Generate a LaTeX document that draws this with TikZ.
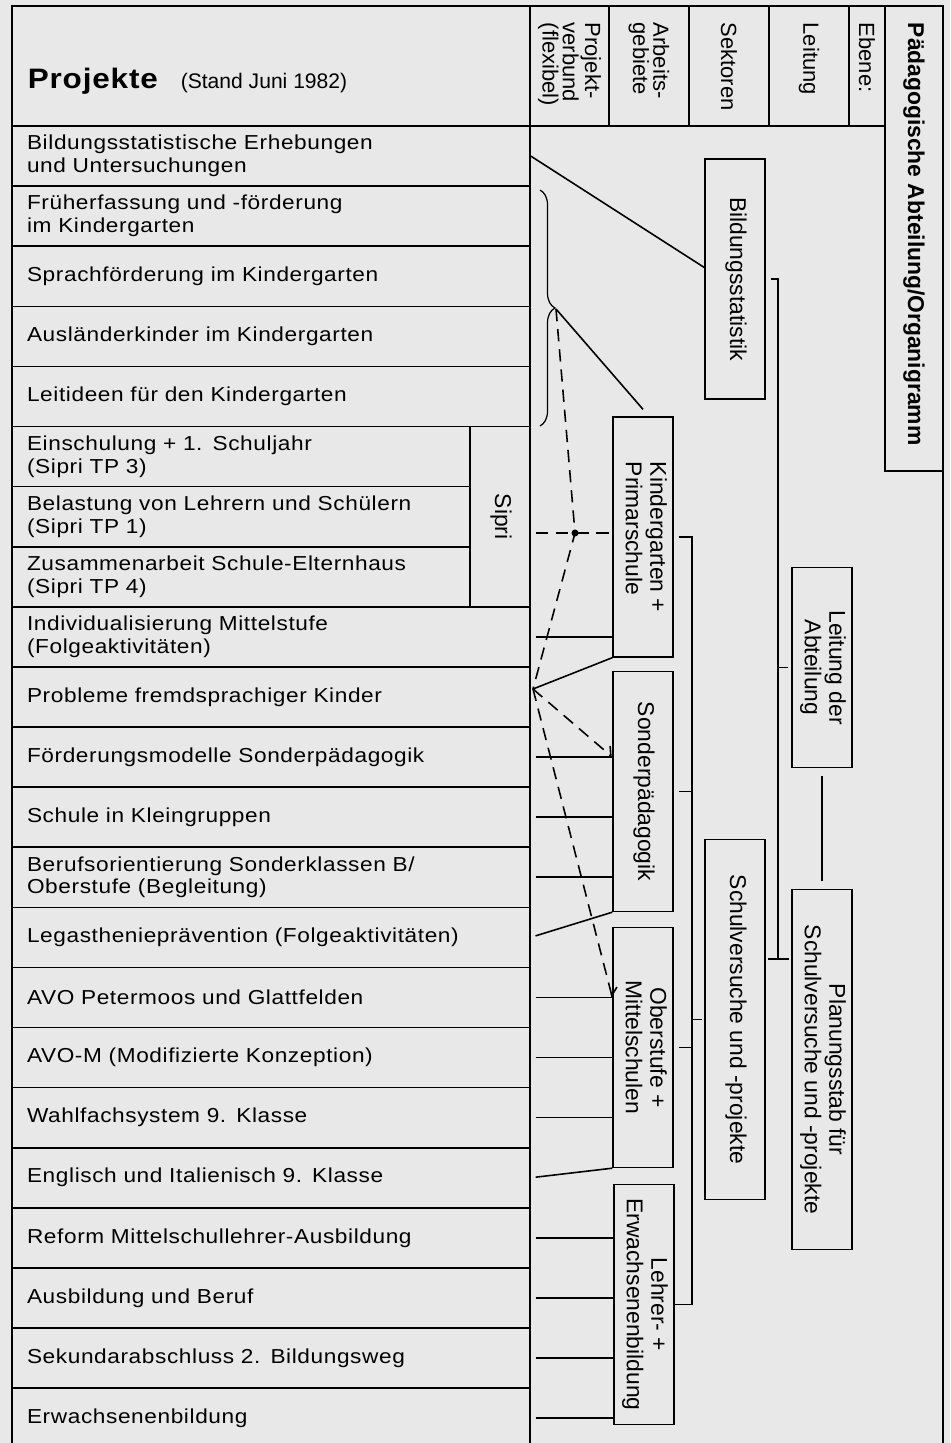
\documentclass[tikz,border=0pt]{standalone}
\usepackage{fontspec}
\usepackage{graphicx}
\setmainfont{Liberation Sans}
\newfontfamily\listfont[LetterSpace=3,FakeStretch=1.12]{Liberation Sans}
\usetikzlibrary{decorations.pathreplacing,arrows.meta}
\newcommand{\vlabel}[2][c]{\rotatebox{-90}{\begin{tabular}{@{}#1@{}}#2\end{tabular}}}

\begin{document}
\begin{tikzpicture}[x=0.02cm,y=-0.02cm,line width=0.9pt,
  cell/.style={draw, minimum width=10.36cm, minimum height=1.202cm, text width=9.76cm, align=left, inner xsep=0.3cm, inner ysep=0pt, font=\listfont\fontsize{11.5}{13}\selectfont},
  scell/.style={cell, minimum width=9.16cm, text width=8.56cm},
  colhead/.style={anchor=west, rotate=-90, align=left, inner sep=0pt, font=\fontsize{12.5}{11.5}\selectfont},
  unit/.style={draw, line width=0.8pt, minimum width=1.2cm, minimum height=4.8cm, inner sep=0pt, font=\fontsize{13}{14}\selectfont},
  dsh/.style={dash pattern=on 7pt off 4.5pt},
  gap/.style={shorten <=0.1cm}]
\path[use as bounding box, fill=black!9] (0,0) rectangle (950,1443);

\draw (12,6) rectangle (530,126);
\draw (530,6) rectangle (609,126);
\draw (609,6) rectangle (689,126);
\draw (689,6) rectangle (769,126);
\draw (769,6) rectangle (849,126);
\draw (849,6) rectangle (885,126);
\draw (885,6) rectangle (943,471);
\draw (943,471) -- (943,1460);
\draw (530,126) -- (530,1460);

\node[anchor=base west, inner sep=0pt, font=\listfont\bfseries\fontsize{16}{16}\selectfont] (ttl) at (27,89) {Projekte};
\node[anchor=base west, inner sep=0pt, font=\fontsize{12}{12}\selectfont] (stand) at (180,89) {(Stand Juni 1982)};
\node[colhead] (hverb) at (569.5,22) {Projekt-\\verbund\\(flexibel)};
\node[colhead] (harb) at (649,22) {Arbeits-\\gebiete};
\node[colhead] (hsek) at (729,22) {Sektoren};
\node[colhead] (hlei) at (809,22) {Leitung};
\node[colhead] (heb) at (867,22) {Ebene:};
\node[colhead, font=\bfseries\fontsize{13}{13}\selectfont] (hpa) at (914,22) {Pädagogische Abteilung/Organigramm};

\node[cell] (r1) at (271,156.05) {Bildungsstatistische Erhebungen\\und Untersuchungen};
\node[cell] (r2) at (271,216.15) {Früherfassung und -förderung\\im Kindergarten};
\node[cell] (r3) at (271,276.25) {Sprachförderung im Kindergarten};
\node[cell] (r4) at (271,336.35) {Ausländerkinder im Kindergarten};
\node[cell] (r5) at (271,396.45) {Leitideen für den Kindergarten};
\node[scell] (r6) at (241,456.55) {Einschulung + 1. Schuljahr\\(Sipri TP 3)};
\node[scell] (r7) at (241,516.65) {Belastung von Lehrern und Schülern\\(Sipri TP 1)};
\node[scell] (r8) at (241,576.75) {Zusammenarbeit Schule-Elternhaus\\(Sipri TP 4)};
\node[cell] (r9) at (271,636.85) {Individualisierung Mittelstufe\\(Folgeaktivitäten)};
\node[cell] (r10) at (271,696.95) {Probleme fremdsprachiger Kinder};
\node[cell] (r11) at (271,757.05) {Förderungsmodelle Sonderpädagogik};
\node[cell] (r12) at (271,817.15) {Schule in Kleingruppen};
\node[cell] (r13) at (271,877.25) {Berufsorientierung Sonderklassen B/\\Oberstufe (Begleitung)};
\node[cell] (r14) at (271,937.35) {Legasthenieprävention (Folgeaktivitäten)};
\node[cell] (r15) at (271,997.45) {AVO Petermoos und Glattfelden};
\node[cell] (r16) at (271,1057.55) {AVO-M (Modifizierte Konzeption)};
\node[cell] (r17) at (271,1117.65) {Wahlfachsystem 9. Klasse};
\node[cell] (r18) at (271,1177.75) {Englisch und Italienisch 9. Klasse};
\node[cell] (r19) at (271,1237.85) {Reform Mittelschullehrer-Ausbildung};
\node[cell] (r20) at (271,1297.95) {Ausbildung und Beruf};
\node[cell] (r21) at (271,1358.05) {Sekundarabschluss 2. Bildungsweg};
\node[cell] (r22) at (271,1418.15) {Erwachsenenbildung};
\node[draw, minimum width=1.2cm, minimum height=3.606cm, inner sep=0pt, font=\fontsize{13}{14}\selectfont] (sipri) at (500,516.65) {\vlabel{Sipri}};

\node[unit] (bild) at (735,279) {\vlabel{Bildungsstatistik}};
\node[unit] (kg) at (643,537) {\vlabel[l]{Kindergarten +\\Primarschule}};
\node[unit] (sonder) at (643,791.5) {\vlabel{Sonderpädagogik}};
\node[unit] (ober) at (643,1047.5) {\vlabel{Oberstufe +\\Mittelschulen}};
\node[unit] (lehrer) at (644,1304.5) {\vlabel{Lehrer- +\\Erwachsenenbildung}};
\node[unit, minimum height=7.2cm] (schul) at (735,1019.5) {\vlabel{Schulversuche und -projekte}};
\node[unit, minimum height=4cm] (leit) at (822,667.5) {\vlabel{Leitung der\\Abteilung}};
\node[unit, minimum height=7.2cm] (plan) at (822,1069.5) {\vlabel{Planungsstab für\\Schulversuche und -projekte}};

\coordinate (btip) at (556,309);
\coordinate (dot) at (575,533);
\coordinate (hub) at (533,689);
\coordinate (bus) at (692,0);
\coordinate (tb) at (778,959);

\draw (r1.east) -- ([yshift=0.23cm]bild.west);
\draw[line width=0.7pt, decorate, decoration={brace, amplitude=0.3cm}] (540,190) -- (540,426);
\draw (btip) -- ([yshift=0.14cm]kg.north);
\draw[dsh] (btip) -- (dot) -- (hub);
\fill (dot) circle (2pt);
\draw[dsh, gap] (sipri.east |- dot) -- (kg.west |- dot);
\draw (hub) -- (kg.south west);
\draw[gap] (r9.east) -- (kg.west |- r9.east);
\draw[dsh, -{Straight Barb[harpoon,length=4pt]}] (hub) -- (sonder.west |- r11.east);
\draw[dsh, -{Straight Barb[harpoon,length=4pt]}] (hub) -- (ober.west |- r15.east);
\draw[gap] (r11.east) -- (sonder.west |- r11.east);
\draw[gap] (r12.east) -- (sonder.west |- r12.east);
\draw[gap] (r13.east) -- (sonder.west |- r13.east);
\draw[gap] (r14.east) -- (sonder.south west);
\draw[gap] (r15.east) -- (ober.west |- r15.east);
\draw[gap] (r16.east) -- (ober.west |- r16.east);
\draw[gap] (r17.east) -- (ober.west |- r17.east);
\draw[gap] (r18.east) -- (ober.south west);
\draw[gap] (r19.east) -- (lehrer.west |- r19.east);
\draw[gap] (r20.east) -- (lehrer.west |- r20.east);
\draw[gap] (r21.east) -- (lehrer.west |- r21.east);
\draw[gap] (r22.east) -- (lehrer.west |- r22.east);

\draw[gap] (kg.east) -- (kg.east -| bus) -- (lehrer.east -| bus) -- (lehrer.east);
\draw[gap] (sonder.east) -- (sonder.east -| bus);
\draw[gap] (ober.east) -- (ober.east -| bus);
\draw[shorten >=0.04cm] (schul.west -| bus) -- (schul.west);

\draw[line width=1.3pt, gap] (bild.east) -- (bild.east -| tb) -- (tb);
\draw[line width=1.3pt] ([xshift=-0.2cm]tb) -- ([xshift=0.22cm]tb);
\draw[line width=1.1pt, shorten >=0.06cm] (leit.west -| tb) -- (leit.west);
\draw[line width=1.1pt, shorten <=0.16cm, shorten >=0.16cm] (leit.south) -- (plan.north);
\end{tikzpicture}
\end{document}
